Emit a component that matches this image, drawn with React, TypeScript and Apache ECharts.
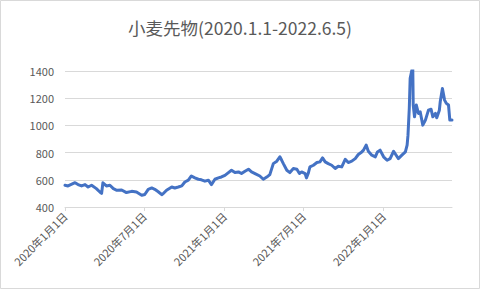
import React, { useEffect, useRef } from "react";
import * as echarts from "echarts";

const titleText = "小麦先物(2020.1.1-2022.6.5)";

const dates: string[] = [
  "2020-01-01", "2020-01-08", "2020-01-24", "2020-01-31", "2020-02-08", "2020-02-16", "2020-02-23",
  "2020-03-02", "2020-03-13", "2020-03-21", "2020-03-25", "2020-03-28", "2020-04-05", "2020-04-13",
  "2020-04-21", "2020-04-29", "2020-05-10", "2020-05-21", "2020-06-02", "2020-06-13", "2020-06-25",
  "2020-07-02", "2020-07-10", "2020-07-18", "2020-07-25", "2020-08-02", "2020-08-10", "2020-08-13",
  "2020-08-21", "2020-09-02", "2020-09-09", "2020-09-17", "2020-09-25", "2020-10-02", "2020-10-10",
  "2020-10-17", "2020-10-25", "2020-11-02", "2020-11-09", "2020-11-17", "2020-11-25", "2020-12-02",
  "2020-12-10", "2020-12-18", "2020-12-25", "2021-01-02", "2021-01-10", "2021-01-17", "2021-01-25",
  "2021-02-02", "2021-02-09", "2021-02-17", "2021-02-25", "2021-03-04", "2021-03-12", "2021-03-23",
  "2021-03-31", "2021-04-08", "2021-04-15", "2021-04-23", "2021-05-01", "2021-05-08", "2021-05-12",
  "2021-05-16", "2021-05-24", "2021-05-31", "2021-06-08", "2021-06-16", "2021-06-22", "2021-06-27",
  "2021-07-05", "2021-07-08", "2021-07-12", "2021-07-16", "2021-07-24", "2021-08-01", "2021-08-08",
  "2021-08-14", "2021-08-20", "2021-08-27", "2021-09-04", "2021-09-12", "2021-09-19", "2021-09-27",
  "2021-10-05", "2021-10-12", "2021-10-20", "2021-10-28", "2021-11-04", "2021-11-12", "2021-11-16",
  "2021-11-22", "2021-11-27", "2021-12-05", "2021-12-13", "2021-12-18", "2021-12-24", "2022-01-01",
  "2022-01-09", "2022-01-16", "2022-01-24", "2022-01-28", "2022-02-04", "2022-02-12", "2022-02-20",
  "2022-02-24", "2022-02-26", "2022-03-01", "2022-03-03", "2022-03-07", "2022-03-09", "2022-03-10",
  "2022-03-13", "2022-03-17", "2022-03-22", "2022-03-26", "2022-04-01", "2022-04-07", "2022-04-14",
  "2022-04-20", "2022-04-24", "2022-04-30", "2022-05-03", "2022-05-09", "2022-05-11", "2022-05-16",
  "2022-05-21", "2022-05-25", "2022-05-30", "2022-06-02", "2022-06-07",
];

const prices: number[] = [
  560, 555, 579, 565, 555, 565, 547,
  560, 535, 510, 500, 578, 555, 560,
  535, 523, 525, 506, 515, 510, 486,
  492, 530, 540, 530, 512, 491, 497,
  523, 547, 540, 547, 555, 584, 597,
  628, 614, 604, 600, 590, 597, 565,
  604, 614, 621, 633, 653, 670, 653,
  658, 646, 663, 678, 658, 646, 628,
  604, 620, 638, 719, 737, 769, 745,
  719, 670, 653, 683, 678, 646, 658,
  646, 614, 646, 695, 707, 727, 732,
  761, 732, 719, 707, 683, 700, 695,
  751, 727, 737, 756, 786, 805, 818,
  855, 810, 781, 769, 805, 818, 769,
  744, 756, 810, 790, 756, 781, 805,
  855, 928, 1125, 1346, 1407, 1420, 1150,
  1063, 1150, 1088, 1100, 1002, 1039, 1112,
  1119, 1063, 1088, 1056, 1112, 1174, 1272,
  1186, 1162, 1150, 1039, 1039,
];

const xTickDates: string[] = ["2020-01-01", "2020-07-01", "2021-01-01", "2021-07-01", "2022-01-01"];
const xMin = "2020-01-01";
const xMax = "2022-06-07";
const yMin = 400;
const yMax = 1400;
const yStep = 200;

function toTs(s: string): number {
  const [y, m, d] = s.split("-").map(Number);
  return new Date(y, m - 1, d).getTime();
}

export default function App() {
  const ref = useRef<HTMLDivElement>(null);
  useEffect(() => {
    if (!ref.current) return;
    const chart = echarts.init(ref.current, undefined, { renderer: "svg" });
    const tickVals = xTickDates.map(toTs);
    chart.setOption({
      animation: false,
      backgroundColor: "#ffffff",
      title: {
        text: titleText,
        left: "center",
        top: 14,
        textStyle: {
          fontFamily: "Noto Sans CJK JP",
          fontSize: 17.5,
          fontWeight: "normal",
          color: "#595959",
        },
      },
      graphic: [
        {
          type: "rect",
          shape: { x: 0.5, y: 0.5, width: 479, height: 288 },
          style: { fill: "none", stroke: "#d9d9d9", lineWidth: 1 },
          silent: true,
        },
      ],
      grid: { left: 65, right: 28, top: 71, bottom: 82, containLabel: false },
      xAxis: {
        type: "value",
        min: toTs(xMin),
        max: toTs(xMax),
        axisLine: { show: true, lineStyle: { color: "#d9d9d9", width: 1 } },
        axisTick: {
          show: true,
          length: 4,
          lineStyle: { color: "#d9d9d9" },
          customValues: tickVals,
        },
        axisLabel: {
          customValues: tickVals,
          rotate: 45,
          margin: 7,
          fontFamily: "Noto Sans CJK JP",
          fontSize: 11,
          color: "#595959",
          formatter: (v: number) => {
            const d = new Date(v);
            return `${d.getFullYear()}年${d.getMonth() + 1}月${d.getDate()}日`;
          },
        },
        splitLine: { show: false },
      },
      yAxis: {
        type: "value",
        min: yMin,
        max: yMax,
        interval: yStep,
        axisLine: { show: false },
        axisTick: { show: false },
        axisLabel: {
          margin: 11,
          fontFamily: "Noto Sans CJK JP",
          fontSize: 11,
          color: "#595959",
          formatter: (v: number) => String(v),
        },
        splitLine: { lineStyle: { color: "#d9d9d9", width: 1 } },
      },
      series: [
        {
          type: "line",
          data: dates.map((d, i) => [toTs(d), prices[i]]),
          showSymbol: false,
          symbol: "none",
          lineStyle: { color: "#4472C4", width: 3, join: "round", cap: "round" },
        },
      ],
    });
    return () => chart.dispose();
  }, []);
  return (
    <div
      ref={ref}
      style={{ position: "fixed", left: 0, top: 0, width: 480, height: 289 }}
    />
  );
}
